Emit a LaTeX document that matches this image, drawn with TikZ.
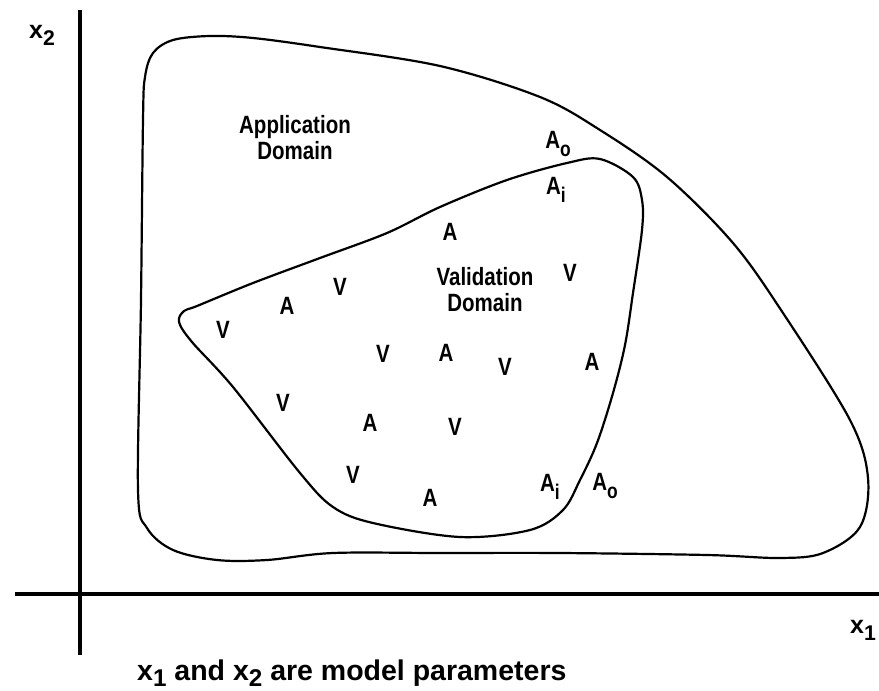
\documentclass[tikz,border=0pt]{standalone}
\usepackage{fontspec}
\setmainfont{Liberation Sans}
\newfontfamily\narrowfont[FakeStretch=0.82]{Liberation Sans}
\newcommand{\lsub}[1]{\raisebox{-0.3em}{\scalebox{0.85}{#1}}}
\newcommand{\csub}[1]{\raisebox{-0.24em}{\scalebox{0.85}{#1}}}
\begin{document}
\begin{tikzpicture}[x=1pt,y=-1pt,
  axis/.style={line width=3.2pt},
  region/.style={line width=2.2pt, line join=round},
  lab/.style={font=\narrowfont\bfseries\fontsize{25}{26}\selectfont, inner sep=0pt, align=center},
  axlab/.style={font=\bfseries\fontsize{25}{26}\selectfont, inner sep=0pt, anchor=base west},
  captext/.style={font=\bfseries\fontsize{28.5}{30}\selectfont, inner sep=0pt, anchor=base west}]
\useasboundingbox (0,0) rectangle (879,691);
% axes
\coordinate (yb) at (80,655);
\coordinate (yt) at (80,10);
\coordinate (xl) at (15,594);
\coordinate (xr) at (879,594);
\draw[axis] (yb) -- (yt);
\draw[axis] (xl) -- (xr);
% application domain
\draw[region] plot[smooth cycle, tension=0.55] coordinates {
 (138,490) (141,300) (143,120) (145,77) (153,53) (173,40) (210,36) (253,38)
 (320,47) (440,66) (540,97) (600,130) (667,177) (733,243) (783,313)
 (850,420) (868,478) (860,527) (823,553) (780,558) (707,555) (560,553)
 (440,553) (333,553) (267,560) (217,560) (173,550) (147,528)};
% validation domain
\draw[region] plot[smooth cycle, tension=0.55] coordinates {
 (179,322) (184,311) (197,306) (253,283) (320,258) (387,233) (440,207)
 (507,180) (567,163) (600,159) (633,177) (642,200)
 (642,230) (633,293) (625,345) (613,393) (597,443) (580,480) (563,510)
 (530,530) (460,537) (373,523) (333,507) (300,473) (233,387) (192,342)};
% labels
\node[lab] (ad) at (295,138) {Application\\Domain};
\node[lab] (vd) at (485,290) {Validation\\Domain};
\node[lab] (aot) at (558,144) {A\lsub{o}};
\node[lab] (ait) at (556,190) {A\lsub{i}};
\node[lab] (aib) at (550,487) {A\lsub{i}};
\node[lab] (aob) at (605,486) {A\lsub{o}};
\node[lab] (v1) at (223,330) {V};
\node[lab] (a1) at (287,306) {A};
\node[lab] (v2) at (340,287) {V};
\node[lab] (a2) at (450,232) {A};
\node[lab] (v3) at (570,273) {V};
\node[lab] (v4) at (383,354) {V};
\node[lab] (a3) at (446,353) {A};
\node[lab] (v5) at (505,367) {V};
\node[lab] (a4) at (592,362) {A};
\node[lab] (v6) at (283,403) {V};
\node[lab] (a5) at (370,423) {A};
\node[lab] (v7) at (455,427) {V};
\node[lab] (v8) at (353,475) {V};
\node[lab] (a6) at (430,498) {A};
% axis labels
\node[axlab] (x2) at (29,38) {x\lsub{2}};
\node[axlab] (x1) at (850,633) {x\lsub{1}};
\node[captext] (caption) at (137,680) {x\csub{1} and x\csub{2} are model parameters};
\end{tikzpicture}
\end{document}
